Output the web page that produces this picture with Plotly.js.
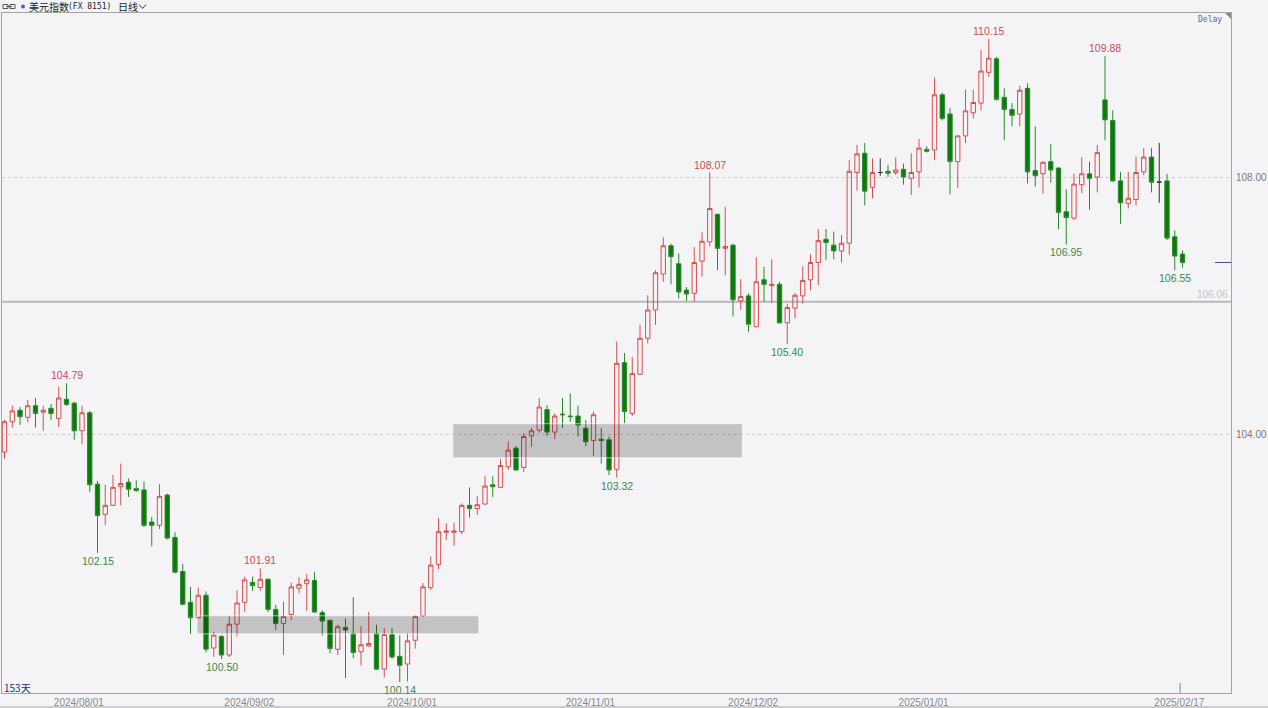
<!DOCTYPE html>
<html>
<head>
<meta charset="utf-8">
<script src="https://cdn.plot.ly/plotly-3.0.1.min.js"></script>
<style>
  html, body { margin: 0; padding: 0; background: #f4f4f7; }
  #chart { width: 1268px; height: 708px; }
</style>
</head>
<body>
<div id="chart"></div>
<script>
// 美元指数 daily candles, one per weekday starting 2024-07-18
const firstDate = '2024-07-18';

const openP = [
  103.72,104.19,104.37,104.26,104.44,104.34,104.40,104.24,104.54,104.48,
  104.05,104.33,103.22,102.75,102.89,103.18,103.25,103.15,103.13,102.63,
  102.58,103.05,102.39,101.86,101.38,101.14,101.49,100.67,100.85,100.56,
  101.04,101.38,101.69,101.61,101.74,101.27,101.05,101.19,101.60,101.67,
  101.72,101.22,101.10,100.65,100.99,100.89,100.61,100.70,100.89,100.34,
  100.88,100.54,100.42,100.79,101.17,101.61,101.97,102.47,102.47,102.48,
  102.89,102.84,102.91,103.21,103.17,103.49,103.78,103.48,103.97,104.06,
  104.38,104.03,104.31,104.28,104.28,104.09,103.90,103.92,103.91,103.45,
  105.11,104.32,104.93,105.49,105.93,106.49,106.93,106.65,106.24,106.19,
  106.69,106.99,107.42,106.89,106.94,106.07,106.15,105.67,106.40,106.31,
  106.33,105.73,105.96,106.15,106.40,106.67,107.03,106.94,106.85,106.97,
  108.07,108.37,107.84,108.07,108.09,108.07,108.12,107.98,108.08,108.43,
  108.42,109.28,108.98,108.24,108.64,109.00,109.15,109.63,109.84,109.24,
  109.05,108.98,109.38,108.10,108.05,108.24,108.14,107.46,107.36,107.88,
  108.05,108.00,109.20,108.88,107.94,107.59,107.65,108.08,108.31,107.92,
  107.94,107.07,106.80
];
const highP = [
  104.22,104.44,104.42,104.53,104.56,104.44,104.47,104.74,104.79,104.50,
  104.44,104.36,103.27,103.21,103.36,103.54,103.31,103.28,103.26,102.71,
  103.22,103.07,102.47,101.98,101.62,101.61,101.55,100.92,100.87,101.16,
  101.57,101.78,101.78,101.91,101.75,101.34,101.39,101.69,101.77,101.82,
  101.85,101.26,101.11,101.03,101.13,101.46,101.01,101.23,101.03,100.98,
  100.98,100.87,100.90,101.18,101.68,102.09,102.69,102.61,102.62,102.92,
  103.17,103.03,103.35,103.34,103.61,103.88,103.81,104.01,104.10,104.56,
  104.45,104.32,104.56,104.63,104.44,104.22,104.35,104.09,103.96,105.44,
  105.26,105.20,105.70,106.16,106.55,107.06,106.96,106.81,106.29,106.91,
  107.15,108.07,107.43,107.54,106.96,106.41,106.19,106.75,106.60,106.72,
  106.37,106.03,106.19,106.61,106.80,107.19,107.19,107.15,107.10,108.26,
  108.50,108.53,108.29,108.29,108.19,108.31,108.21,108.37,108.59,108.48,
  109.55,109.31,109.07,108.65,109.36,109.36,109.98,110.15,109.87,109.38,
  109.15,109.42,109.46,108.79,108.24,108.51,108.15,107.81,108.05,108.31,
  108.24,108.50,109.88,109.04,108.08,108.08,108.32,108.45,108.45,108.53,
  108.05,107.17,106.86
];
const lowP = [
  103.62,104.10,104.14,104.18,104.10,104.05,104.22,104.11,104.44,103.91,
  103.84,103.10,102.15,102.58,102.88,102.89,103.02,103.10,102.55,102.25,
  102.52,102.36,101.83,101.34,100.89,101.13,100.60,100.53,100.50,100.53,
  100.85,101.23,101.56,101.56,101.23,100.95,100.56,101.10,101.52,101.25,
  101.22,100.86,100.59,100.56,100.20,100.51,100.40,100.69,100.33,100.21,
  100.50,100.14,100.15,100.66,101.15,101.57,101.90,102.35,102.26,102.44,
  102.70,102.74,102.90,103.02,103.16,103.44,103.43,103.41,103.80,104.02,
  103.97,103.92,104.09,104.19,103.96,103.81,103.66,103.54,103.36,103.32,
  104.17,104.28,104.92,105.41,105.70,106.37,106.33,106.11,106.07,106.06,
  106.45,106.92,106.55,106.47,105.83,105.93,105.59,105.66,106.06,106.04,
  105.72,105.40,105.80,106.03,106.24,106.32,106.71,106.72,106.67,106.79,
  107.79,107.56,107.67,108.02,108.00,108.03,107.88,107.72,107.84,108.38,
  108.26,108.88,107.73,107.83,108.53,108.91,109.04,109.56,109.19,108.58,
  108.79,108.79,107.90,107.85,107.74,107.91,107.19,106.95,107.33,107.75,
  107.49,107.76,108.57,107.93,107.27,107.51,107.56,108.03,107.76,107.60,
  107.02,106.55,106.59
];
const closeP = [
  104.19,104.36,104.27,104.44,104.32,104.37,104.32,104.56,104.46,104.05,
  104.33,103.21,102.73,102.89,103.17,103.23,103.14,103.12,102.58,102.58,
  103.03,102.38,101.85,101.35,101.14,101.49,100.65,100.87,100.56,101.04,
  101.37,101.73,101.64,101.74,101.27,101.05,101.16,101.62,101.66,101.73,
  101.23,101.09,100.66,101.00,100.95,100.60,100.72,100.74,100.34,100.88,
  100.53,100.40,100.78,101.16,101.62,101.96,102.48,102.49,102.49,102.89,
  102.84,102.90,103.19,103.18,103.51,103.75,103.44,103.96,104.05,104.42,
  104.03,104.28,104.30,104.27,104.14,103.88,104.30,103.90,103.44,105.10,
  104.35,104.94,105.49,105.93,106.51,106.93,106.76,106.21,106.18,106.67,
  107.00,107.51,106.89,106.92,106.09,106.14,105.71,106.37,106.33,106.33,
  105.73,105.97,106.16,106.39,106.67,107.01,106.98,106.85,106.97,108.09,
  108.36,107.78,108.07,108.07,108.06,108.11,108.00,108.07,108.45,108.40,
  109.28,108.91,108.24,108.64,109.03,109.16,109.65,109.85,109.21,109.05,
  108.96,109.35,108.08,108.02,108.23,108.11,107.45,107.37,107.89,108.05,
  107.98,108.38,108.89,107.94,107.60,107.67,108.07,108.31,107.92,107.92,
  107.05,106.77,106.67
];

// bottom axis labels
const tickDates = ['2024/08/01','2024/09/02','2024/10/01','2024/11/01','2024/12/02','2025/01/01','2025/02/17'];
// right axis labels
const priceTicks = [104, 108];
// marked highs and lows (candle dates)
const highMarks = ['2024/07/30','2024/09/03','2024/11/22','2025/01/13','2025/02/03'];
const lowMarks  = ['2024/08/05','2024/08/27','2024/09/27','2024/11/06','2024/12/06','2025/01/27','2025/02/14'];
// support line level
const levelLine = 106.06;
// shaded price zones: [fromDate, toDate, low, high]
const zones = [
  ['2024/08/22', '2024/10/11', 100.89, 101.17],
  ['2024/10/08', '2024/11/28', 103.63, 104.16]
];

// ---- trading-day calendar (weekdays) ----
function pad(n) { return (n < 10 ? '0' : '') + n; }
const dates = [];
{
  const d = new Date(firstDate + 'T00:00:00Z');
  while (dates.length < closeP.length) {
    const wd = d.getUTCDay();
    if (wd !== 0 && wd !== 6) {
      dates.push(d.getUTCFullYear() + '/' + pad(d.getUTCMonth() + 1) + '/' + pad(d.getUTCDate()));
    }
    d.setUTCDate(d.getUTCDate() + 1);
  }
}
const idx = s => dates.indexOf(s);
const N = closeP.length;

// ---- pixel helpers for the chrome around the plot ----
const M = { l: 2, r: 37, t: 13, b: 15 };
const W = 1268, H = 708;
const PW = W - M.l - M.r, PH = H - M.t - M.b;
const xp = px => (px - M.l) / PW;
const yp = py => (H - M.b - py) / PH;

const UP = '#d94c4c', DOWN_FILL = '#0b7a0b', DOWN_LINE = '#2a892a', FLAT = '#333333';

function candles(filter, incLine, decLine, decFill) {
  const x = [], o = [], h = [], l = [], c = [];
  for (let i = 0; i < N; i++) {
    if (!filter(i)) continue;
    x.push(i); o.push(openP[i]); h.push(highP[i]); l.push(lowP[i]); c.push(closeP[i]);
  }
  return {
    type: 'candlestick', x: x, open: o, high: h, low: l, close: c,
    increasing: { line: { color: incLine, width: 1 }, fillcolor: 'rgba(0,0,0,0)' },
    decreasing: { line: { color: decLine, width: 1 }, fillcolor: decFill },
    whiskerwidth: 0, hoverinfo: 'skip', showlegend: false
  };
}

const traces = [
  candles(i => closeP[i] > openP[i], UP, UP, 'rgba(0,0,0,0)'),
  candles(i => closeP[i] < openP[i], DOWN_LINE, DOWN_LINE, DOWN_FILL),
  candles(i => closeP[i] === openP[i], FLAT, FLAT, FLAT)
];

const labelFont = { family: 'Liberation Sans, Arial, sans-serif', size: 10.5 };
const annotations = [];
highMarks.forEach(s => {
  const i = idx(s);
  annotations.push({ x: i, y: highP[i], xref: 'x', yref: 'y', text: highP[i].toFixed(2),
    showarrow: false, yanchor: 'bottom', xanchor: 'center', yshift: 0,
    font: Object.assign({ color: '#cf4a4f' }, labelFont) });
});
lowMarks.forEach(s => {
  const i = idx(s);
  annotations.push({ x: i, y: lowP[i], xref: 'x', yref: 'y', text: lowP[i].toFixed(2),
    showarrow: false, yanchor: 'top', xanchor: 'center', yshift: 0,
    font: Object.assign({ color: '#3a8a45' }, labelFont) });
});

// level label, day count, header and delay tag
annotations.push(
  { xref: 'paper', yref: 'y', x: 1, y: levelLine, text: levelLine.toFixed(2), showarrow: false,
    xanchor: 'right', yanchor: 'bottom', yshift: 0, xshift: -1,
    font: { family: 'Liberation Sans, Arial, sans-serif', size: 10, color: '#c4c4c8' } },
  { xref: 'paper', yref: 'paper', x: xp(2), y: yp(687), text: N + '天', showarrow: false,
    xanchor: 'left', yanchor: 'middle',
    font: { family: 'Noto Sans CJK SC, sans-serif', size: 10, color: '#2b2b86' } },
  { xref: 'paper', yref: 'paper', x: xp(27), y: yp(6.5), text: '美元指数', showarrow: false,
    xanchor: 'left', yanchor: 'middle',
    font: { family: 'Noto Sans CJK SC, sans-serif', size: 10, color: '#222' } },
  { xref: 'paper', yref: 'paper', x: xp(66), y: yp(6.5), text: '(FX 8151)', showarrow: false,
    xanchor: 'left', yanchor: 'middle',
    font: { family: 'DejaVu Sans Mono, monospace', size: 8, color: '#222' } },
  { xref: 'paper', yref: 'paper', x: xp(116), y: yp(6.5), text: '日线', showarrow: false,
    xanchor: 'left', yanchor: 'middle',
    font: { family: 'Noto Sans CJK SC, sans-serif', size: 10, color: '#222' } },
  { xref: 'paper', yref: 'paper', x: xp(1224), y: yp(20), text: 'Delay', showarrow: false,
    xanchor: 'right', yanchor: 'middle',
    font: { family: 'DejaVu Sans Mono, monospace', size: 8, color: '#4a6aa8' } }
);

const shapes = [];
zones.forEach(z => {
  shapes.push({ type: 'rect', xref: 'x', yref: 'y',
    x0: idx(z[0]) - 0.15, x1: idx(z[1]) + 0.2, y0: z[2], y1: z[3],
    fillcolor: 'rgba(0,0,0,0.2)', line: { color: 'rgba(255,255,255,0.6)', width: 1 }, layer: 'above' });
});
shapes.push(
  // support level
  { type: 'line', xref: 'paper', yref: 'y', x0: 0, x1: 1, y0: levelLine, y1: levelLine,
    line: { color: '#b9b9bd', width: 2 }, layer: 'below' },
  // last close marker
  { type: 'line', xref: 'paper', yref: 'y', x0: xp(1215), x1: 1, y0: closeP[N - 1], y1: closeP[N - 1],
    line: { color: '#4a4a98', width: 1 } },
  // tick on latest date
  { type: 'line', xref: 'x', yref: 'paper', x0: N - 1 - 0.3, x1: N - 1 - 0.3, y0: 0, y1: 10 / PH,
    line: { color: '#888', width: 1 } },
  // corner triangle
  { type: 'path', xref: 'paper', yref: 'paper',
    path: 'M ' + xp(1225) + ' ' + yp(13) + ' L ' + xp(1231) + ' ' + yp(13) + ' L ' + xp(1231) + ' ' + yp(19) + ' Z',
    fillcolor: '#8a8a8a', line: { width: 0 } },
  // bottom frame below the date row
  { type: 'line', xref: 'paper', yref: 'paper', x0: xp(0), x1: xp(1268), y0: yp(707), y1: yp(707),
    line: { color: '#a4a4a8', width: 1 } },
  // header link icon
  { type: 'rect', xref: 'paper', yref: 'paper', x0: xp(3), x1: xp(8), y0: yp(4.5), y1: yp(8.5),
    line: { color: '#555', width: 1 }, fillcolor: 'rgba(0,0,0,0)' },
  { type: 'rect', xref: 'paper', yref: 'paper', x0: xp(10), x1: xp(15), y0: yp(4.5), y1: yp(8.5),
    line: { color: '#555', width: 1 }, fillcolor: 'rgba(0,0,0,0)' },
  { type: 'line', xref: 'paper', yref: 'paper', x0: xp(6), x1: xp(12), y0: yp(6.5), y1: yp(6.5),
    line: { color: '#555', width: 1 } },
  // header dot
  { type: 'circle', xref: 'paper', yref: 'paper', x0: xp(21), x1: xp(25), y0: yp(4.5), y1: yp(8.5),
    fillcolor: '#3a64b8', line: { width: 0 } },
  // header chevron
  { type: 'path', xref: 'paper', yref: 'paper',
    path: 'M ' + xp(139) + ' ' + yp(4.5) + ' L ' + xp(142.5) + ' ' + yp(8.5) + ' L ' + xp(146) + ' ' + yp(4.5),
    line: { color: '#333', width: 1 } }
);

const layout = {
  width: W, height: H,
  margin: M,
  paper_bgcolor: '#f4f4f7',
  plot_bgcolor: '#f4f4f7',
  showlegend: false,
  hovermode: false,
  boxgap: 0.2,
  xaxis: {
    type: 'linear',
    range: [-(4.5 - M.l) / 7.75, -(4.5 - M.l) / 7.75 + PW / 7.75],
    rangeslider: { visible: false },
    tickvals: tickDates.map(s => idx(s) - 0.4),
    ticktext: tickDates,
    ticks: '', showgrid: false, zeroline: false,
    showline: true, mirror: true, linecolor: '#a4a4a8', linewidth: 1,
    tickfont: { family: 'Liberation Sans, Arial, sans-serif', size: 10, color: '#8a8a8a' },
    ticklabelstandoff: 0,
    fixedrange: true
  },
  yaxis: {
    side: 'right',
    range: [99.969, 110.553],
    tickvals: priceTicks,
    ticktext: priceTicks.map(v => v.toFixed(2)),
    ticks: '',
    showgrid: true, gridcolor: '#c9c9cd', griddash: 'dot', gridwidth: 1,
    zeroline: false,
    showline: true, mirror: true, linecolor: '#a4a4a8', linewidth: 1,
    tickfont: { family: 'Liberation Sans, Arial, sans-serif', size: 10, color: '#7a7a7a' },
    ticklabelstandoff: 2,
    fixedrange: true
  },
  annotations: annotations,
  shapes: shapes
};

Plotly.newPlot('chart', traces, layout, { displayModeBar: false, staticPlot: true });
</script>
</body>
</html>
